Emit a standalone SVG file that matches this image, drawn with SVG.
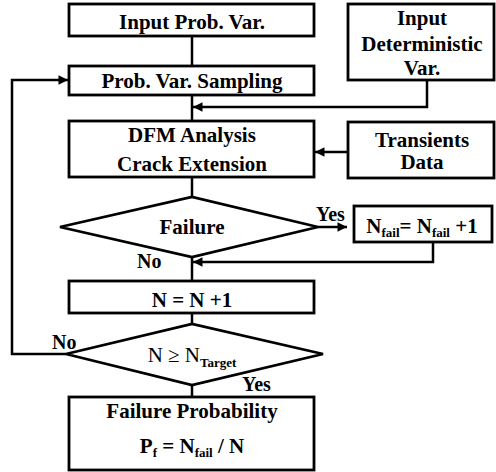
<svg xmlns="http://www.w3.org/2000/svg" width="496" height="472" viewBox="0 0 496 472" font-family="'Liberation Serif', 'DejaVu Serif', serif">
<style>
.box{fill:#fff;stroke:#000;stroke-width:2.8}
.ln{fill:none;stroke:#000;stroke-width:2.5}
text{font-family:'Liberation Serif','DejaVu Serif',serif;font-weight:bold;font-size:21px;fill:#000}
.c{text-anchor:middle}
.lbl{font-size:20px}
.sub{font-size:13px}
.reg{font-weight:normal}
</style>
<defs>
<marker id="ah" viewBox="0 0 10 10" refX="10" refY="5" markerWidth="4.6" markerHeight="3.8" orient="auto" markerUnits="strokeWidth">
<path d="M0,0 L10,5 L0,10 z" fill="#000"/>
</marker>
</defs>
<rect width="496" height="472" fill="#fff"/>
<g id="connectors">
<path class="ln" d="M192,36 V66"/>
<path class="ln" d="M192,95 V121"/>
<path class="ln" d="M427,80 V107 H193" marker-end="url(#ah)"/>
<path class="ln" d="M348,152 H315" marker-end="url(#ah)"/>
<path class="ln" d="M192,177 V197"/>
<path class="ln" d="M318,227 H347" marker-end="url(#ah)"/>
<path class="ln" d="M433,242 V262 H193" marker-end="url(#ah)"/>
<path class="ln" d="M192,257 V281"/>
<path class="ln" d="M192,313 V324"/>
<path class="ln" d="M66,354 H12 V80 H68" marker-end="url(#ah)"/>
<path class="ln" d="M192,385 V397"/>
<text class="lbl" x="316" y="221">Yes</text>
<text class="lbl" x="137" y="268">No</text>
<text class="lbl" x="52" y="349">No</text>
<text class="lbl" x="242" y="391">Yes</text>
</g>
<g id="input-prob">
<rect class="box" x="69" y="4" width="245" height="32"/>
<text class="c" x="192" y="29">Input Prob. Var.</text>
</g>
<g id="sampling">
<rect class="box" x="69" y="66" width="245" height="29"/>
<text class="c" x="192" y="88">Prob. Var. Sampling</text>
</g>
<g id="input-det">
<rect class="box" x="348" y="4" width="146" height="76"/>
<text class="c" x="422" y="25">Input</text>
<text class="c" x="422" y="51">Deterministic</text>
<text class="c" x="422" y="75">Var.</text>
</g>
<g id="dfm">
<rect class="box" x="69" y="121" width="245" height="56"/>
<text class="c" x="192" y="142">DFM Analysis</text>
<text class="c" x="192" y="171">Crack Extension</text>
</g>
<g id="transients">
<rect class="box" x="348" y="122" width="146" height="56"/>
<text class="c" x="422" y="147">Transients</text>
<text class="c" x="422" y="169">Data</text>
</g>
<g id="failure">
<polygon class="box" points="60,227 192,197 318,227 192,257"/>
<text class="c" x="192" y="234">Failure</text>
</g>
<g id="nfail">
<rect class="box" x="354" y="206" width="138" height="36"/>
<text class="c" x="422" y="233">N<tspan class="sub" dy="4">fail</tspan><tspan dy="-4">= N</tspan><tspan class="sub" dy="4">fail</tspan><tspan dy="-4"> +1</tspan></text>
</g>
<g id="increment">
<rect class="box" x="69" y="281" width="245" height="32"/>
<text class="c" x="192" y="307">N = N +1</text>
</g>
<g id="target">
<polygon class="box" points="66,354 192,324 323,354 192,385"/>
<text class="c" x="192" y="362"><tspan class="reg">N ≥ N</tspan><tspan class="sub" dy="5">Target</tspan></text>
</g>
<g id="result">
<rect class="box" x="69" y="397" width="245" height="73"/>
<text class="c" x="192" y="418">Failure Probability</text>
<text class="c" x="192" y="453">P<tspan class="sub" dy="4">f</tspan><tspan dy="-4"> = N</tspan><tspan class="sub" dy="4">fail</tspan><tspan dy="-4"> / N</tspan></text>
</g>
</svg>
